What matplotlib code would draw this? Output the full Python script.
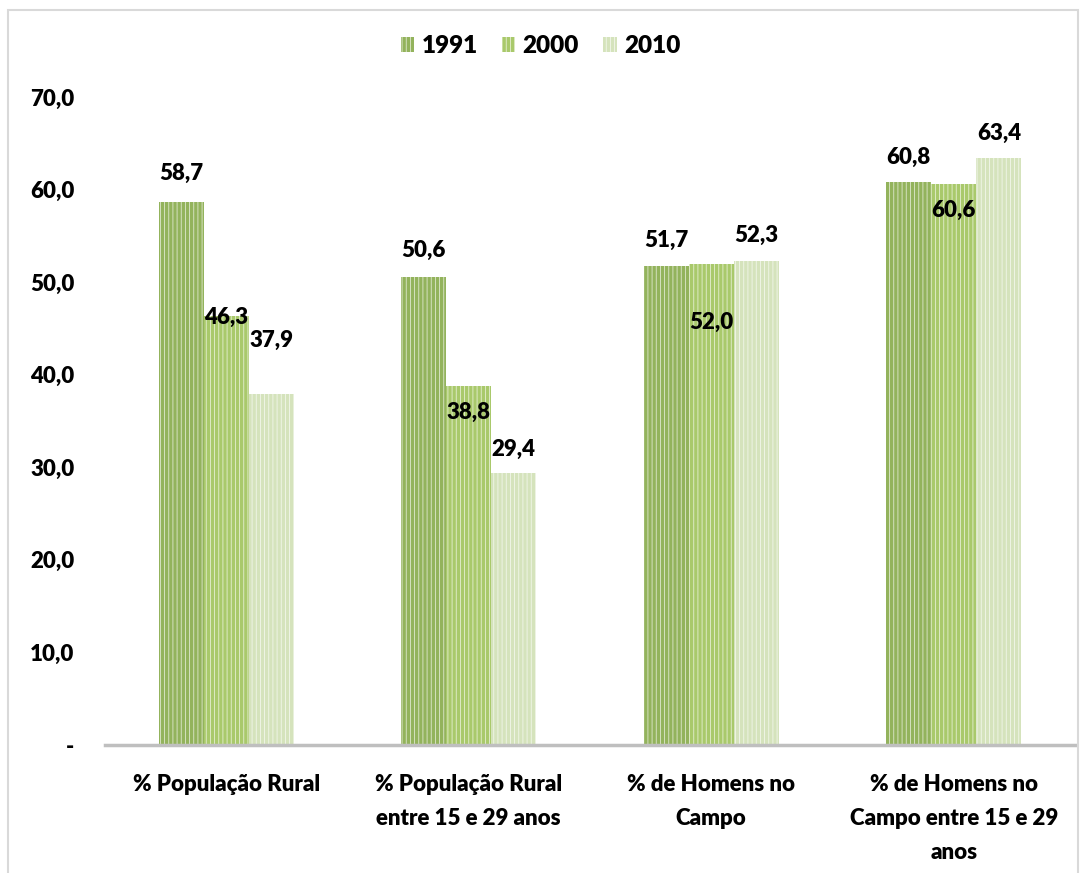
import matplotlib.pyplot as plt
import numpy as np
from matplotlib.patches import Rectangle

plt.rcParams['font.family'] = ['Lato', 'DejaVu Sans']
plt.rcParams['font.weight'] = 'heavy'
plt.rcParams['hatch.linewidth'] = 0.6

# dados
categorias = ['% População Rural', '% População Rural\nentre 15 e 29 anos',
              '% de Homens no\nCampo', '% de Homens no\nCampo entre 15 e 29\nanos']
anos = ['1991', '2000', '2010']
v1991 = [58.7, 50.6, 51.7, 60.8]
v2000 = [46.3, 38.8, 52.0, 60.6]
v2010 = [37.9, 29.4, 52.3, 63.4]
yticks = [0, 10, 20, 30, 40, 50, 60, 70]
ytick_labels = ['-', '10,0', '20,0', '30,0', '40,0', '50,0', '60,0', '70,0']

cores = ['#93b35c', '#a9c96b', '#d5e3bc']
# deslocamento vertical dos rótulos (pontos) em relação ao topo da barra
desloc = [[20, 19, 19, 18],
          [-1, -19, -42, -19],
          [39, 17, 18, 18]]

fig = plt.figure(figsize=(10.81, 8.73), dpi=100)
ax = fig.add_axes([105/1081, 128/873, 970/1081, 648/873])

x = np.arange(len(categorias))
w = 0.186
series = [v1991, v2000, v2010]
for i, vals in enumerate(series):
    pos = x + (i - 1) * w
    ax.bar(pos, vals, w, color=cores[i], edgecolor=(1, 1, 1, 0.7), hatch='||||',
           linewidth=0, label=anos[i])
    for j, v in enumerate(vals):
        ax.annotate(f'{v:.1f}'.replace('.', ','), (pos[j], v),
                    xytext=(0, desloc[i][j]), textcoords='offset points',
                    ha='center', va='center', fontsize=16, fontweight='heavy')

ax.set_xlim(-0.5, 3.5)
ax.set_ylim(0, 70)
ax.set_yticks(yticks)
ax.set_yticklabels(ytick_labels)
ax.set_xticks(x)
ax.set_xticklabels(categorias, linespacing=1.75)
ax.tick_params(axis='both', length=0, labelsize=16)
ax.tick_params(axis='y', pad=22)
ax.tick_params(axis='x', pad=21)
for s in ['top', 'right', 'left']:
    ax.spines[s].set_visible(False)
ax.spines['bottom'].set_color('#bfbfbf')
ax.spines['bottom'].set_linewidth(2.5)

leg = fig.legend(loc='center', bbox_to_anchor=(0.5, 1 - 46/873), ncol=3,
                 frameon=False, fontsize=17.5, handlelength=0.55, handleheight=0.55,
                 handletextpad=0.3, columnspacing=1.0)

# moldura
fig.patches.append(Rectangle((8/1081, -0.1), 1070/1081, 1.1 - 10/873,
                             transform=fig.transFigure, fill=False,
                             edgecolor='#d9d9d9', linewidth=1.5))

fig.savefig('out.png', dpi=100)
